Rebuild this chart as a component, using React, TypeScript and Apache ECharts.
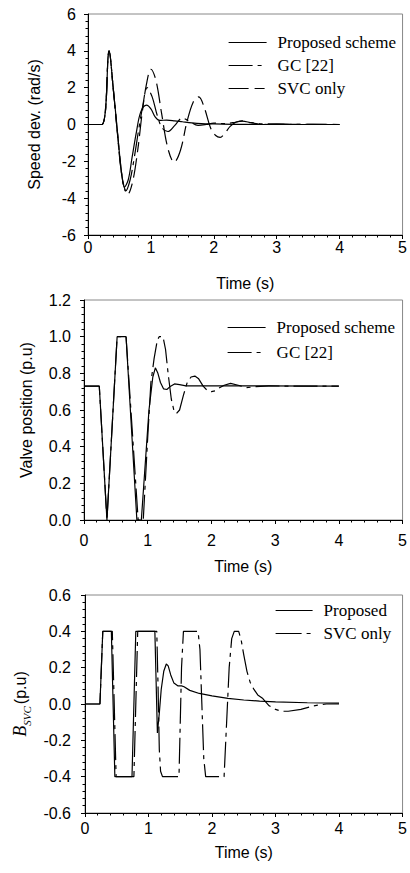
import React, { useEffect, useRef } from "react";
import * as echarts from "echarts";

// ---------- Chart 1: speed deviation (rad/s) ----------
const speedPropT = [0, 0.22, 0.335, 0.4, 0.46, 0.52, 0.58, 0.64, 0.7, 0.77, 0.84, 0.93, 1.0, 1.07, 1.14, 1.25, 1.38, 1.5, 1.65, 1.8, 2.0, 2.3, 2.7, 3.2, 4.0];
const speedPropV = [0, 0, 4.0, 2.0, -0.1, -2.2, -3.4, -3.0, -1.8, -0.4, 0.7, 1.05, 0.85, 0.4, 0.22, 0.24, 0.2, 0.15, 0.09, 0.05, 0.03, 0.01, 0.0, 0, 0];
const speedGcT = [0, 0.22, 0.335, 0.4, 0.46, 0.53, 0.6, 0.67, 0.74, 0.8, 0.87, 0.94, 1.02, 1.1, 1.18, 1.27, 1.38, 1.5, 1.62, 1.75, 1.88, 2.0, 2.15, 2.3, 2.45, 2.6, 2.8, 3.0, 3.3, 4.0];
const speedGcV = [0, 0, 4.0, 2.0, -0.2, -2.6, -3.6, -3.0, -1.7, -0.4, 1.0, 2.0, 1.5, 0.5, -0.2, -0.38, -0.05, 0.35, 0.15, -0.05, 0.0, 0.08, 0.05, 0.1, 0.18, 0.1, 0.03, 0.03, 0.01, 0];
const speedSvcT = [0, 0.22, 0.335, 0.4, 0.47, 0.55, 0.63, 0.71, 0.79, 0.86, 0.93, 1.0, 1.08, 1.17, 1.27, 1.37, 1.47, 1.57, 1.67, 1.76, 1.85, 1.95, 2.03, 2.1, 2.18, 2.26, 2.35, 2.45, 2.55, 2.7, 2.9, 3.2, 4.0];
const speedSvcV = [0, 0, 4.0, 2.0, -0.5, -3.0, -3.8, -3.1, -1.4, 0.6, 2.2, 3.0, 2.4, 0.6, -1.3, -2.05, -1.4, 0.1, 1.2, 1.5, 0.9, -0.2, -0.6, -0.7, -0.45, -0.1, 0.12, 0.2, 0.12, 0.03, 0.0, 0.01, 0];

// ---------- Chart 2: valve position (p.u) ----------
const valvePropT = [0, 0.24, 0.36, 0.52, 0.66, 0.83, 0.9, 1.02, 1.08, 1.12, 1.16, 1.2, 1.25, 1.3, 1.36, 1.42, 1.5, 1.6, 4.0];
const valvePropV = [0.73, 0.73, 0, 1.0, 1.0, 0, 0, 0.6, 0.78, 0.83, 0.8, 0.75, 0.715, 0.712, 0.73, 0.742, 0.738, 0.732, 0.73];
const valveGcT = [0, 0.24, 0.36, 0.52, 0.66, 0.85, 0.93, 1.0, 1.05, 1.1, 1.15, 1.18, 1.24, 1.28, 1.32, 1.37, 1.41, 1.45, 1.5, 1.56, 1.62, 1.68, 1.74, 1.8, 1.87, 1.94, 2.0, 2.06, 2.12, 2.2, 2.3, 2.42, 2.55, 2.7, 2.9, 3.2, 4.0];
const valveGcV = [0.73, 0.73, 0, 1.0, 1.0, 0, 0, 0.45, 0.75, 0.88, 0.98, 1.0, 1.0, 0.93, 0.8, 0.66, 0.6, 0.58, 0.6, 0.68, 0.75, 0.78, 0.785, 0.77, 0.73, 0.705, 0.7, 0.705, 0.72, 0.735, 0.745, 0.735, 0.722, 0.727, 0.732, 0.73, 0.73];

// ---------- Chart 3: B_SVC (p.u) ----------
const bPropT = [0, 0.235, 0.28, 0.415, 0.47, 0.74, 0.8, 1.1, 1.14, 1.17, 1.2, 1.24, 1.28, 1.31, 1.35, 1.4, 1.46, 1.52, 1.56, 1.65, 1.8, 2.0, 2.25, 2.5, 2.75, 3.0, 3.5, 4.0];
const bPropV = [0, 0, 0.4, 0.4, -0.4, -0.4, 0.4, 0.4, -0.16, -0.05, 0.08, 0.18, 0.22, 0.21, 0.16, 0.115, 0.1, 0.1, 0.095, 0.075, 0.058, 0.045, 0.031, 0.022, 0.016, 0.012, 0.007, 0.005];
const bSvcT = [0, 0.235, 0.28, 0.43, 0.49, 0.77, 0.83, 1.13, 1.15, 1.17, 1.19, 1.22, 1.48, 1.52, 1.55, 1.78, 1.81, 1.84, 1.87, 1.9, 2.19, 2.23, 2.27, 2.31, 2.35, 2.42, 2.46, 2.5, 2.55, 2.6, 2.66, 2.72, 2.8, 2.9, 3.0, 3.1, 3.2, 3.4, 3.6, 3.8, 4.0];
const bSvcV = [0, 0, 0.4, 0.4, -0.4, -0.4, 0.4, 0.4, 0.1, -0.25, -0.37, -0.4, -0.4, 0.2, 0.4, 0.4, 0.3, 0.0, -0.3, -0.4, -0.4, -0.1, 0.2, 0.36, 0.4, 0.4, 0.35, 0.27, 0.18, 0.12, 0.08, 0.05, 0.03, -0.01, -0.03, -0.04, -0.04, -0.03, -0.01, 0.0, 0.0];

const legend1 = ["Proposed scheme", "GC [22]", "SVC only"];
const legend2 = ["Proposed scheme", "GC [22]"];
const legend3 = ["Proposed", "SVC only"];

const SANS = '"Liberation Sans", Arial, sans-serif';
const SERIF = '"Liberation Serif", "Times New Roman", serif';

const zip = (t: number[], v: number[]) => t.map((x, i) => [x, v[i]]);

const dashGC = [24, 5, 4, 5];
const dashSVC1 = [20, 6, 10, 6];
const dashSVC3 = [26, 5, 4, 5];

function fmt1(v: number) {
  if (Math.abs(v) < 1e-9) return "0.0";
  return v.toFixed(1);
}

export default function App() {
  const ref = useRef<HTMLDivElement>(null);
  useEffect(() => {
    if (!ref.current) return;
    const chart = echarts.init(ref.current, null, { renderer: "svg" });

    const grids = [
      { left: 88, top: 14, width: 318, height: 221 },
      { left: 84, top: 300, width: 319, height: 220 },
      { left: 85, top: 595, width: 319, height: 218 },
    ];
    const xLabelMargin = [4, 12, 7];
    const xNameGap = [40, 38, 31];
    const yLabelMargin = [12, 13, 14];
    const yNameGap = [46, 50, 48];

    const xAxes = grids.map((_, i) => ({
      type: "value",
      gridIndex: i,
      min: 0,
      max: 5,
      interval: 1,
      name: "Time (s)",
      nameLocation: "middle",
      nameGap: xNameGap[i],
      nameTextStyle: { fontFamily: SANS, fontSize: 16, color: "#000" },
      axisLine: { show: true, onZero: false, lineStyle: { color: "#000", width: 1 } },
      axisTick: { show: true, length: 4, lineStyle: { color: "#000" } },
      minorTick: { show: true, splitNumber: 5, length: 2.5, lineStyle: { color: "#000" } },
      splitLine: { show: false },
      axisLabel: { fontFamily: SANS, fontSize: 16, color: "#000", margin: xLabelMargin[i] },
    }));

    const yCommon = (i: number) => ({
      type: "value",
      gridIndex: i,
      nameLocation: "middle",
      nameRotate: 90,
      nameGap: yNameGap[i],
      axisLine: { show: true, onZero: false, lineStyle: { color: "#000", width: 1 } },
      axisTick: { show: true, length: 4, lineStyle: { color: "#000" } },
      minorTick: { show: true, splitNumber: 5, length: 2.5, lineStyle: { color: "#000" } },
      splitLine: { show: false },
    });

    const yAxes = [
      {
        ...yCommon(0),
        min: -6,
        max: 6,
        interval: 2,
        name: "Speed dev. (rad/s)",
        nameTextStyle: { fontFamily: SANS, fontSize: 16, color: "#000" },
        axisLabel: { fontFamily: SANS, fontSize: 16, color: "#000", margin: yLabelMargin[0] },
      },
      {
        ...yCommon(1),
        min: 0,
        max: 1.2,
        interval: 0.2,
        name: "Valve position (p.u)",
        nameTextStyle: { fontFamily: SANS, fontSize: 16, color: "#000" },
        axisLabel: { fontFamily: SANS, fontSize: 16, color: "#000", margin: yLabelMargin[1], formatter: fmt1 },
      },
      {
        ...yCommon(2),
        min: -0.6,
        max: 0.6,
        interval: 0.2,
        name: "{b|B}{s|SVC}{n|(p.u)}",
        nameTextStyle: {
          color: "#000",
          rich: {
            b: { fontFamily: SERIF, fontStyle: "italic", fontSize: 18, color: "#000", verticalAlign: "bottom", padding: [0, 0, 4, 0] },
            s: { fontFamily: SERIF, fontStyle: "italic", fontSize: 11, color: "#000", verticalAlign: "bottom", padding: [0, 2, 0, 0] },
            n: { fontFamily: SANS, fontSize: 16, color: "#000", verticalAlign: "bottom", padding: [0, 0, 4, 0] },
          },
        },
        axisLabel: { fontFamily: SANS, fontSize: 16, color: "#000", margin: yLabelMargin[2], formatter: fmt1 },
      },
    ];

    const line = (name: string, xi: number, data: number[][], dash: any, smooth: number | boolean) => ({
      type: "line",
      name,
      xAxisIndex: xi,
      yAxisIndex: xi,
      data,
      showSymbol: false,
      symbol: "none",
      smooth,
      lineStyle: { color: "#000", width: 1.2, type: dash },
      itemStyle: { color: "#000" },
    });

    const series = [
      line(legend1[0], 0, zip(speedPropT, speedPropV), "solid", 0.35),
      line(legend1[1], 0, zip(speedGcT, speedGcV), dashGC, 0.35),
      line(legend1[2], 0, zip(speedSvcT, speedSvcV), dashSVC1, 0.35),
      line(legend2[0], 1, zip(valvePropT, valvePropV), "solid", false),
      line(legend2[1], 1, zip(valveGcT, valveGcV), dashGC, false),
      line(legend3[0], 2, zip(bPropT, bPropV), "solid", false),
      line(legend3[1], 2, zip(bSvcT, bSvcV), dashSVC3, false),
    ];

    const legendBase = {
      orient: "vertical",
      itemWidth: 38,
      itemHeight: 14,
      selectedMode: false,
      itemStyle: { color: "transparent", borderColor: "transparent", borderWidth: 0, opacity: 0 },
      lineStyle: { width: 1.2, color: "#000" },
      textStyle: { fontFamily: SERIF, fontSize: 17, color: "#000", padding: [0, 0, 0, 6] },
    };

    chart.setOption({
      animation: false,
      grid: grids.map((g) => ({ ...g, show: true, borderColor: "#888", borderWidth: 1, backgroundColor: "transparent" })),
      xAxis: xAxes,
      yAxis: yAxes,
      legend: [
        { ...legendBase, left: 223, top: 29, itemGap: 6, data: legend1.map((n) => ({ name: n })) },
        { ...legendBase, left: 222, top: 314, itemGap: 8, data: legend2.map((n) => ({ name: n })) },
        {
          ...legendBase,
          left: 270,
          top: 597,
          itemGap: 6,
          itemWidth: 37,
          data: [
            { name: legend3[0] },
            { name: legend3[1], lineStyle: { type: dashSVC3, color: "#000", width: 1.2 } },
          ],
        },
      ],
      series,
    });
    return () => chart.dispose();
  }, []);

  return <div ref={ref} style={{ position: "fixed", left: 0, top: 0, width: 410, height: 873, background: "#fff" }} />;
}
